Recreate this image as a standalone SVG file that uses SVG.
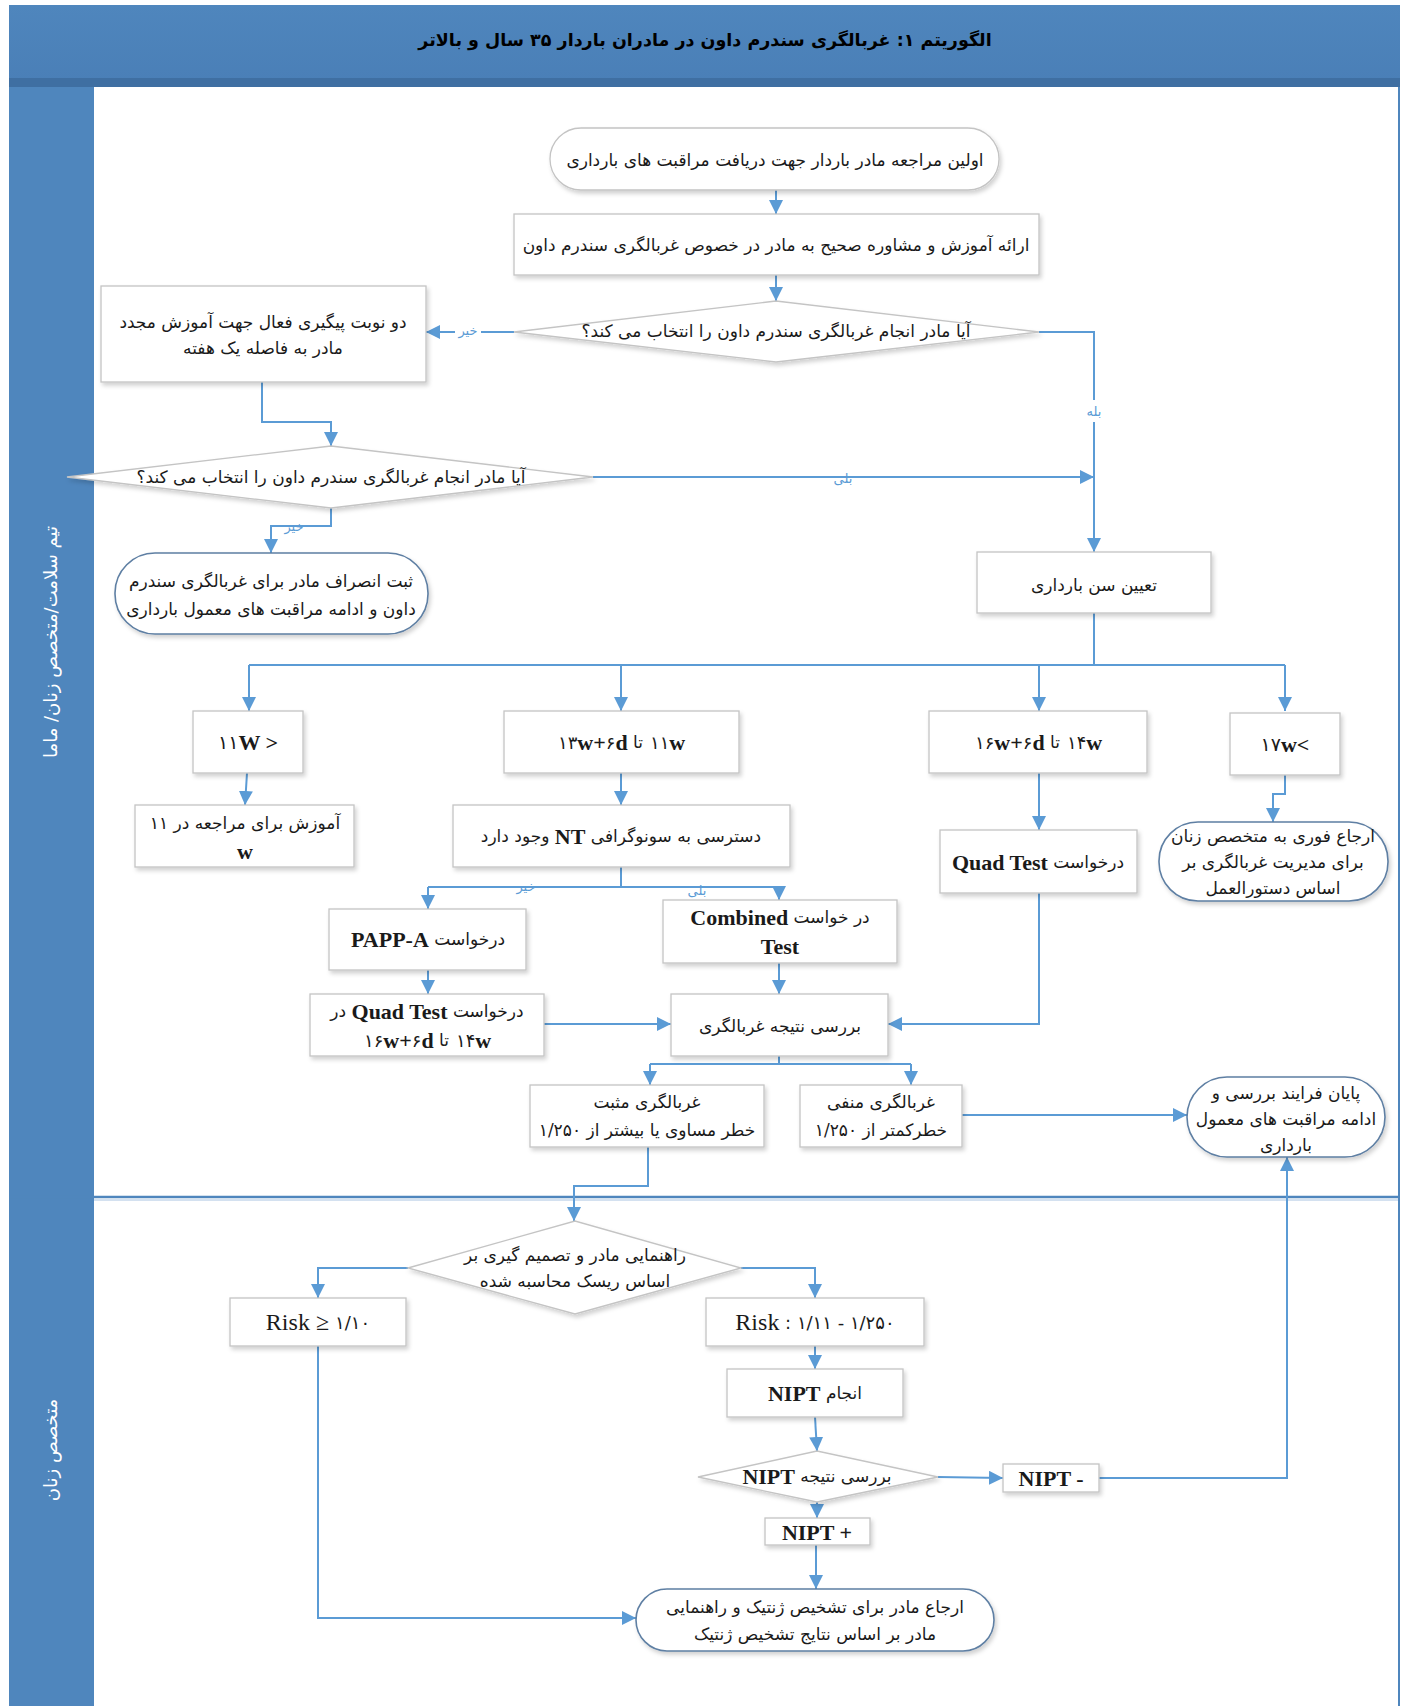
<svg xmlns="http://www.w3.org/2000/svg" width="1405" height="1706" viewBox="0 0 1405 1706">
<defs>
<style>
.box{fill:#fff;stroke:#C4C4C4;stroke-width:1.3;filter:url(#sh)}
.term{fill:#fff;stroke:#5E7FA3;stroke-width:1.6;filter:url(#sh)}
.termg{fill:#fff;stroke:#C4C4C4;stroke-width:1.3;filter:url(#sh)}
.c{fill:none;stroke:#5B9BD5;stroke-width:2;marker-end:url(#ah)}
.cn{fill:none;stroke:#5B9BD5;stroke-width:2}
text{font-family:"DejaVu Sans",sans-serif;font-size:17px;fill:#1a1a1a;text-anchor:middle;dominant-baseline:central}
.rtl{direction:rtl}
.ltr{direction:ltr;unicode-bidi:bidi-override}
.st{text-anchor:start}
.dg{font-size:18px}
.dg19{font-size:19px}
.lat{font-family:"Liberation Serif",serif;font-weight:bold;font-size:22px}
.risk{font-family:"Liberation Serif",serif;font-size:24px}
.lbl{fill:#5B9BD5;font-size:13px}
.lane{fill:#fff;font-size:18px}
.title{font-weight:bold;font-size:17.5px;fill:#000}
</style>
<filter id="sh" x="-10%" y="-20%" width="125%" height="150%">
<feDropShadow dx="2" dy="3" stdDeviation="2" flood-color="#000" flood-opacity="0.18"/>
</filter>
<marker id="ah" viewBox="0 0 14 14" refX="14" refY="7" markerWidth="14" markerHeight="14" orient="auto" markerUnits="userSpaceOnUse">
<path d="M0,0 L14,7 L0,14 z" fill="#5B9BD5"/>
</marker>
<linearGradient id="band" x1="0" y1="0" x2="0" y2="1">
<stop offset="0" stop-color="#4F86BD"/>
<stop offset="1" stop-color="#4A7FB7"/>
</linearGradient>
</defs>

<!-- frame -->
<g id="frame">
<rect x="0" y="0" width="1405" height="1706" fill="#fff"/>
<rect x="9" y="5" width="1391" height="76" fill="url(#band)"/>
<rect x="9" y="78" width="1391" height="9" fill="#3F6FA2"/>
<rect x="9" y="87" width="85" height="1619" fill="#4F86BD"/>
<line x1="1399" y1="87" x2="1399" y2="1706" stroke="#4F86BD" stroke-width="2"/>
<line x1="9" y1="1197" x2="1400" y2="1197" stroke="#4F86BD" stroke-width="2.5"/>
<line x1="94" y1="1200" x2="1398" y2="1200" stroke="#A9C4E2" stroke-width="1"/>
<text class="title rtl" x="705" y="40">الگوریتم ۱: غربالگری سندرم داون در مادران باردار ۳۵ سال و بالاتر</text>
<text class="lane rtl" transform="translate(50,642) rotate(-90)">تیم سلامت/متخصص زنان/ ماما</text>
<text class="lane rtl" transform="translate(50,1450) rotate(-90)">متخصص زنان</text>
</g>

<!-- connectors -->
<g id="connectors">
<path class="c" d="M776,190 V214"/>
<path class="c" d="M776,275 V301"/>
<path class="c" d="M514,332 H426"/>
<path class="cn" d="M1039,332 H1094 V400"/>
<path class="c" d="M1094,422 V552"/>
<path class="c" d="M262,382 V422 H331 V446"/>
<path class="c" d="M593,477 H1094"/>
<path class="c" d="M331,508 V526 H271 V553"/>
<path class="cn" d="M1094,613 V665 H1285"/>
<path class="c" d="M1285,665 V711"/>
<path class="cn" d="M1094,665 H249"/>
<path class="c" d="M249,665 V711"/>
<path class="c" d="M621,665 V711"/>
<path class="c" d="M1039,665 V711"/>
<path class="c" d="M247,773 L245,805"/>
<path class="c" d="M621,773 V805"/>
<path class="cn" d="M621,867 V887 H428"/>
<path class="c" d="M428,887 V909"/>
<path class="cn" d="M621,887 H779"/>
<path class="c" d="M779,887 V900"/>
<path class="c" d="M428,970 V994"/>
<path class="c" d="M779,963 V994"/>
<path class="c" d="M544,1024 H671"/>
<path class="c" d="M1039,773 V830"/>
<path class="c" d="M1039,893 V1024 H888"/>
<path class="c" d="M1285,775 V794 H1273 V822"/>
<path class="cn" d="M779,1056 V1064 H650"/>
<path class="c" d="M650,1064 V1085"/>
<path class="cn" d="M779,1064 H911"/>
<path class="c" d="M911,1064 V1085"/>
<path class="c" d="M962,1115 H1187"/>
<path class="c" d="M648,1147 V1186 H574 V1221"/>
<path class="c" d="M408,1268 H318 V1298"/>
<path class="c" d="M741,1268 H815 V1298"/>
<path class="c" d="M815,1346 V1369"/>
<path class="c" d="M815,1417 L817,1451"/>
<path class="c" d="M938,1477 L1003,1478"/>
<path class="c" d="M1099,1478 H1287 V1157"/>
<path class="c" d="M817,1502 V1518"/>
<path class="c" d="M816,1545 V1589"/>
<path class="c" d="M318,1346 V1618 H636"/>
<rect x="455" y="324" width="26" height="14" fill="#fff"/>
<text class="lbl rtl" x="468" y="330">خیر</text>
<text class="lbl rtl" x="1094" y="411">بله</text>
<text class="lbl rtl" x="843" y="478">بلی</text>
<text class="lbl rtl" x="294" y="526">خیر</text>
<text class="lbl rtl" x="526" y="886">خیر</text>
<text class="lbl rtl" x="697" y="890">بلی</text>
</g>

<!-- nodes -->
<g id="nA"><rect class="termg" x="550" y="128" width="449" height="62" rx="31"/><text class="rtl" x="775" y="160">اولین مراجعه مادر باردار جهت دریافت مراقبت های بارداری</text></g>
<g id="nB"><rect class="box" x="514" y="214" width="525" height="61"/><text class="rtl" x="776" y="245">ارائه آموزش و مشاوره صحیح به مادر در خصوص غربالگری سندرم داون</text></g>
<g id="nC"><polygon class="box" points="514,332 776,301 1039,332 776,362"/><text class="rtl" x="776" y="331">آیا مادر انجام غربالگری سندرم داون را انتخاب می کند؟</text></g>
<g id="nD"><rect class="box" x="101" y="286" width="325" height="96"/><text class="rtl" x="263" y="322">دو نوبت پیگیری فعال جهت آموزش مجدد</text><text class="rtl" x="263" y="348">مادر به فاصله یک هفته</text></g>
<g id="nE"><polygon class="box" points="67,477 331,446 593,477 331,508"/><text class="rtl" x="331" y="477">آیا مادر انجام غربالگری سندرم داون را انتخاب می کند؟</text></g>
<g id="nG"><rect class="term" x="115" y="553" width="313" height="81" rx="40"/><text class="rtl" x="271" y="581">ثبت انصراف مادر برای غربالگری سندرم</text><text class="rtl" x="271" y="609">داون و ادامه مراقبت های معمول بارداری</text></g>
<g id="nF"><rect class="box" x="977" y="552" width="234" height="61"/><text class="rtl" x="1094" y="585">تعیین سن بارداری</text></g>

<g id="nH1"><rect class="box" x="193" y="711" width="110" height="62"/><text class="ltr dg19" x="248" y="742">۱۱<tspan class="lat">W &gt;</tspan></text></g>
<g id="nH2"><rect class="box" x="504" y="711" width="235" height="62"/>
<text class="ltr dg st" x="558" y="742">۱۳<tspan class="lat">w+</tspan>۶<tspan class="lat">d</tspan></text>
<text x="638" y="742">تا</text>
<text class="ltr dg st" x="650" y="742">۱۱<tspan class="lat">w</tspan></text></g>
<g id="nH3"><rect class="box" x="929" y="711" width="218" height="62"/>
<text class="ltr dg st" x="975" y="742">۱۶<tspan class="lat">w+</tspan>۶<tspan class="lat">d</tspan></text>
<text x="1055" y="742">تا</text>
<text class="ltr dg st" x="1067" y="742">۱۴<tspan class="lat">w</tspan></text></g>
<g id="nH4"><rect class="box" x="1230" y="713" width="110" height="62"/><text class="ltr dg19" x="1285" y="744">۱۷<tspan class="lat">w&lt;</tspan></text></g>

<g id="nI1"><rect class="box" x="135" y="805" width="219" height="62"/><text class="rtl" x="245" y="823">آموزش برای مراجعه در ۱۱</text><text class="lat" x="245" y="851">w</text></g>
<g id="nI2"><rect class="box" x="453" y="805" width="337" height="62"/><text class="rtl" x="621" y="836">دسترسی به سونوگرافی <tspan class="lat">NT</tspan> وجود دارد</text></g>
<g id="nJ1"><rect class="box" x="329" y="909" width="197" height="61"/><text class="rtl" x="428" y="939">درخواست <tspan class="lat">PAPP-A</tspan></text></g>
<g id="nJ2"><rect class="box" x="663" y="900" width="234" height="63"/><text class="rtl" x="780" y="917">در خواست  <tspan class="lat">Combined</tspan></text><text class="lat" x="780" y="946">Test</text></g>
<g id="nK1"><rect class="box" x="310" y="994" width="234" height="62"/><text class="rtl" x="427" y="1011">درخواست <tspan class="lat">Quad Test</tspan> در</text>
<text class="ltr dg st" x="364" y="1040">۱۶<tspan class="lat">w+</tspan>۶<tspan class="lat">d</tspan></text>
<text x="444" y="1040">تا</text>
<text class="ltr dg st" x="456" y="1040">۱۴<tspan class="lat">w</tspan></text></g>
<g id="nK2"><rect class="box" x="671" y="994" width="217" height="62"/><text class="rtl" x="780" y="1026">بررسی نتیجه غربالگری</text></g>
<g id="nL"><rect class="box" x="940" y="830" width="197" height="63"/><text class="rtl" x="1038" y="862">درخواست <tspan class="lat">Quad Test</tspan></text></g>
<g id="nM"><rect class="term" x="1159" y="822" width="229" height="79" rx="39"/><text class="rtl" x="1273" y="836">ارجاع فوری به متخصص زنان</text><text class="rtl" x="1273" y="862">برای مدیریت غربالگری بر</text><text class="rtl" x="1273" y="888">اساس دستورالعمل</text></g>
<g id="nN1"><rect class="box" x="530" y="1085" width="234" height="62"/><text class="rtl" x="647" y="1102">غربالگری مثبت</text><text class="rtl" x="647" y="1130">خطر مساوی یا بیشتر از ۱/۲۵۰</text></g>
<g id="nN2"><rect class="box" x="800" y="1085" width="162" height="62"/><text class="rtl" x="881" y="1102">غربالگری منفی</text><text class="rtl" x="881" y="1130">خطرکمتر از ۱/۲۵۰</text></g>
<g id="nO"><rect class="term" x="1187" y="1077" width="198" height="80" rx="40"/><text class="rtl" x="1286" y="1093">پایان فرایند بررسی و</text><text class="rtl" x="1286" y="1119">ادامه مراقبت های معمول</text><text class="rtl" x="1286" y="1145">بارداری</text></g>

<g id="nP"><polygon class="box" points="408,1268 575,1221 741,1268 575,1314"/><text class="rtl" x="575" y="1255">راهنمایی مادر و تصمیم گیری بر</text><text class="rtl" x="575" y="1281">اساس ریسک محاسبه شده</text></g>
<g id="nQ1"><rect class="box" x="230" y="1298" width="176" height="48"/><text class="ltr dg" x="318" y="1322"><tspan class="risk">Risk ≥ </tspan>۱/۱۰</text></g>
<g id="nQ2"><rect class="box" x="706" y="1298" width="218" height="48"/><text class="ltr dg" x="815" y="1322"><tspan class="risk">Risk</tspan> : ۱/۱۱ - ۱/۲۵۰</text></g>
<g id="nR"><rect class="box" x="727" y="1369" width="176" height="48"/><text class="rtl" x="815" y="1393">انجام  <tspan class="lat">NIPT</tspan></text></g>
<g id="nS"><polygon class="box" points="698,1477 817,1451 938,1477 817,1502"/><text class="rtl" x="817" y="1476">بررسی نتیجه <tspan class="lat">NIPT</tspan></text></g>
<g id="nT"><rect class="box" x="1003" y="1464" width="96" height="28"/><text class="ltr lat" x="1051" y="1478">NIPT  -</text></g>
<g id="nU"><rect class="box" x="765" y="1518" width="105" height="27"/><text class="ltr lat" x="817" y="1532">NIPT +</text></g>
<g id="nV"><rect class="term" x="636" y="1589" width="358" height="62" rx="31"/><text class="rtl" x="815" y="1607">ارجاع مادر برای تشخیص ژنتیک و راهنمایی</text><text class="rtl" x="815" y="1634">مادر بر اساس نتایج تشخیص ژنتیک</text></g>
</svg>
